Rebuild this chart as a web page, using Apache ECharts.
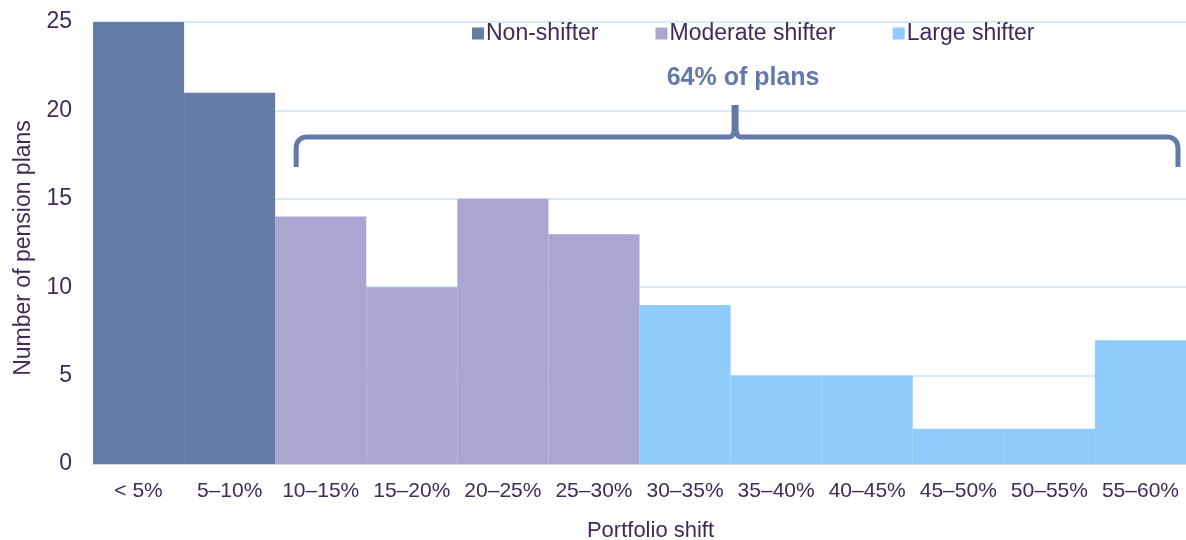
<!DOCTYPE html>
<html>
<head>
<meta charset="utf-8">
<script src="https://cdn.jsdelivr.net/npm/echarts@6/dist/echarts.min.js"></script>
<style>
  html, body { margin: 0; padding: 0; background: #fff; }
  #chart { width: 1186px; height: 540px; }
</style>
</head>
<body>
<div id="chart"></div>
<script>
const categories = ['< 5%', '5–10%', '10–15%', '15–20%', '20–25%', '25–30%',
  '30–35%', '35–40%', '40–45%', '45–50%', '50–55%', '55–60%']
const nonShifter = [25, 21, '-', '-', '-', '-', '-', '-', '-', '-', '-', '-']
const moderateShifter = ['-', '-', 14, 10, 15, 13, '-', '-', '-', '-', '-', '-']
const largeShifter = ['-', '-', '-', '-', '-', '-', 9, 5, 5, 2, 2, 7]
const yTicks = [0, 5, 10, 15, 20, 25]

const textColor = '#3f2b58'
const braceColor = '#6379a8'
const font = 'Liberation Sans, Arial, sans-serif'

const chart = echarts.init(document.getElementById('chart'))

const barSeries = (name, data, color) => ({
  name,
  type: 'bar',
  stack: 'all',
  barWidth: '100%',
  data,
  itemStyle: { color },
  emphasis: { disabled: true }
})

chart.setOption({
  animation: false,
  textStyle: { fontFamily: font },
  grid: { left: 93, right: 0, top: 22, bottom: 76, outerBoundsMode: 'none', containLabel: false },
  legend: {
    top: 17,
    left: 467,
    itemWidth: 12,
    itemHeight: 12,
    itemGap: 57,
    icon: 'rect',
    textStyle: { color: textColor, fontSize: 23, fontFamily: font, padding: [0, 0, 0, -3] },
    data: ['Non-shifter', 'Moderate shifter', 'Large shifter']
  },
  xAxis: {
    type: 'category',
    data: categories,
    name: 'Portfolio shift',
    nameLocation: 'middle',
    nameGap: 56,
    nameTextStyle: { color: textColor, fontSize: 22, fontFamily: font, padding: [0, 0, 0, 22] },
    axisLine: { lineStyle: { color: '#d9d9d9', width: 2 } },
    axisTick: { show: false },
    axisLabel: { color: textColor, fontSize: 21, margin: 17, interval: 0 }
  },
  yAxis: {
    type: 'value',
    min: yTicks[0],
    max: yTicks[yTicks.length - 1],
    interval: 5,
    name: 'Number of pension plans',
    nameLocation: 'middle',
    nameGap: 58,
    nameTextStyle: { color: textColor, fontSize: 23, fontFamily: font, padding: [0, 10, 0, 0] },
    axisLine: { show: false },
    axisTick: { show: false },
    axisLabel: { color: textColor, fontSize: 23, margin: 21 },
    splitLine: { lineStyle: { color: '#d5eafb', width: 2 } }
  },
  series: [
    barSeries('Non-shifter', nonShifter, '#657ba8'),
    barSeries('Moderate shifter', moderateShifter, '#aaa6d1'),
    barSeries('Large shifter', largeShifter, '#8fcbfd')
  ]
})

// rounded corner sampled as a quadratic curve
const corner = (a, c, b) => {
  const pts = []
  for (let i = 0; i <= 8; i++) {
    const t = i / 8
    const u = 1 - t
    pts.push([u * u * a[0] + 2 * u * t * c[0] + t * t * b[0],
      u * u * a[1] + 2 * u * t * c[1] + t * t * b[1]])
  }
  return pts
}

// brace over the shifter categories, placed through the axes
const drawBrace = () => {
  const p0 = chart.convertToPixel({ gridIndex: 0 }, [2, 0])
  const p1 = chart.convertToPixel({ gridIndex: 0 }, [11, 0])
  const half = (p1[0] - p0[0]) / 9 / 2
  const x0 = p0[0] - half + 21
  const x1 = p1[0] + half - 8
  const yLine = chart.convertToPixel({ gridIndex: 0 }, [0, 18.5])[1]
  const yEnd = chart.convertToPixel({ gridIndex: 0 }, [0, 16.8])[1]
  const yTip = chart.convertToPixel({ gridIndex: 0 }, [0, 20.3])[1]
  const yText = chart.convertToPixel({ gridIndex: 0 }, [0, 21.8])[1]
  const xm = (x0 + x1) / 2 - 2
  const r = 12
  const left = [[x0, yEnd]].concat(
    corner([x0, yLine + r], [x0, yLine], [x0 + r, yLine]),
    corner([xm - 6, yLine], [xm - 1, yLine], [xm - 1, yLine - 8]),
    [[xm - 1, yTip]]
  )
  const right = [[xm + 1, yTip]].concat(
    corner([xm + 1, yLine - 8], [xm + 1, yLine], [xm + 6, yLine]),
    corner([x1 - r, yLine], [x1, yLine], [x1, yLine + r]),
    [[x1, yEnd]]
  )
  const lineStyle = { fill: null, stroke: braceColor, lineWidth: 5 }
  chart.setOption({
    graphic: [
      { type: 'polyline', shape: { points: left }, style: lineStyle, z: 100 },
      { type: 'polyline', shape: { points: right }, style: lineStyle, z: 100 },
      {
        type: 'text',
        x: xm + 8,
        y: yText,
        style: {
          text: '64% of plans',
          fill: braceColor,
          font: 'bold 25px ' + font,
          align: 'center',
          verticalAlign: 'middle'
        },
        z: 100
      }
    ]
  })
}
drawBrace()
</script>
</body>
</html>
